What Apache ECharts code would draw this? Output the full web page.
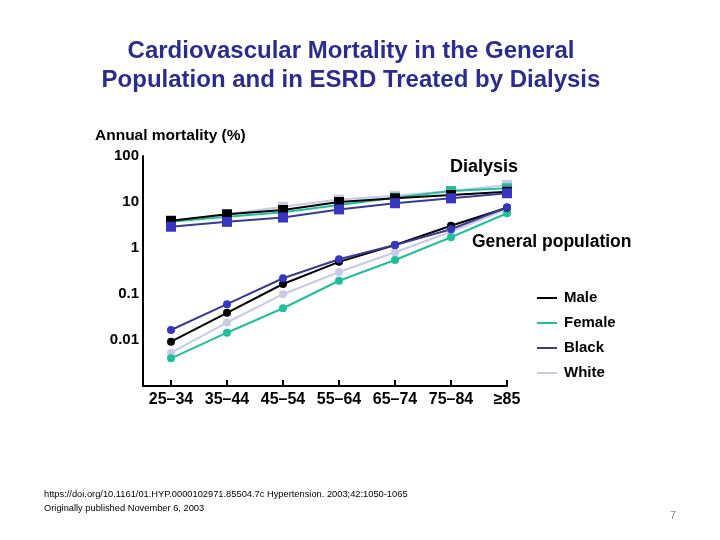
<!DOCTYPE html>
<html>
<head>
<meta charset="utf-8">
<title>Cardiovascular Mortality</title>
<script src="https://cdn.jsdelivr.net/npm/echarts@6/dist/echarts.min.js"></script>
<style>
  html, body { margin: 0; padding: 0; background: #fff; }
  #chart { width: 720px; height: 540px; }
</style>
</head>
<body>
<div id="chart"></div>
<script>
// age groups on the x axis
const ageGroups = ['25\u201334', '35\u201344', '45\u201354', '55\u201364', '65\u201374', '75\u201384', '\u226585']
const groupNames = ['Male', 'Female', 'Black', 'White']
const groupColors = ['#000000', '#20bf9c', '#3a3a94', '#c9c9e8']
const markerColors = ['#000000', '#20bf9c', '#3636c0', '#c9c9e8']

// annual mortality (%), dialysis patients
const dialysisMale = [3.9, 5.4, 6.7, 10, 12.0, 14.2, 16.7]
const dialysisFemale = [3.7, 4.8, 6.0, 8.6, 12.4, 17.3, 19.9]
const dialysisBlack = [2.9, 3.7, 4.6, 6.9, 9.4, 12.0, 15.5]
const dialysisWhite = [3.9, 5.4, 7.9, 11.3, 13.7, 17.3, 23.4]

// annual mortality (%), general population
const generalMale = [0.0092, 0.039, 0.165, 0.50, 1.16, 3.05, 7.5]
const generalFemale = [0.0040, 0.0144, 0.049, 0.194, 0.548, 1.71, 5.7]
const generalBlack = [0.0165, 0.060, 0.22, 0.57, 1.16, 2.55, 7.7]
const generalWhite = [0.0053, 0.024, 0.099, 0.30, 0.81, 2.26, 7.05]

const yTickLabels = { 100: '100', 10: '10', 1: '1', 0.1: '0.1', 0.01: '0.01' }

const dialysisData = [dialysisMale, dialysisFemale, dialysisBlack, dialysisWhite]
const generalData = [generalMale, generalFemale, generalBlack, generalWhite]

function makeSeries (values, i, symbol, size) {
  return {
    name: groupNames[i],
    type: 'line',
    data: values.map((v, k) => [k, v]),
    symbol: symbol,
    symbolSize: size,
    lineStyle: { color: groupColors[i], width: 2 },
    itemStyle: { color: markerColors[i] },
    z: 3,
    animation: false
  }
}

// draw order: white at back, then others
const order = [3, 1, 0, 2]
const series = []
order.forEach(i => series.push(makeSeries(dialysisData[i], i, 'rect', 10)))
order.forEach(i => series.push(makeSeries(generalData[i], i, 'circle', 8)))

const chart = echarts.init(document.getElementById('chart'), null, { renderer: 'canvas' })
const labelFont = 'Liberation Sans, Arial, sans-serif'

const option = {
  backgroundColor: '#ffffff',
  animation: false,
  grid: { left: 143, right: 213, top: 156, bottom: 154 },
  legend: {
    data: groupNames.map((n, i) => ({ name: n, itemStyle: { color: groupColors[i] } })),
    orient: 'vertical',
    left: 532,
    top: 284,
    icon: 'rect',
    itemWidth: 20,
    itemHeight: 2,
    itemGap: 7,
    selectedMode: false,
    textStyle: { fontFamily: labelFont, fontWeight: 'bold', fontSize: 15, color: '#000', padding: [0, 0, 0, 2], lineHeight: 18 }
  },
  xAxis: {
    type: 'value',
    min: -0.5,
    max: 6,
    splitLine: { show: false },
    axisLine: { onZero: false, lineStyle: { color: '#000', width: 2 } },
    axisTick: { inside: true, length: 6, lineStyle: { color: '#000', width: 2 }, customValues: [0, 1, 2, 3, 4, 5, 6] },
    axisLabel: {
      customValues: [0, 1, 2, 3, 4, 5, 6],
      formatter: v => ageGroups[Math.round(v)],
      fontFamily: labelFont,
      fontWeight: 'bold',
      fontSize: 16,
      color: '#000',
      margin: 6
    }
  },
  yAxis: {
    type: 'log',
    logBase: 10,
    min: 0.001,
    max: 100,
    splitLine: { show: false },
    axisLine: { show: true, onZero: false, lineStyle: { color: '#000', width: 2 } },
    axisTick: { show: false },
    axisLabel: {
      formatter: v => yTickLabels[v] || '',
      fontFamily: labelFont,
      fontWeight: 'bold',
      fontSize: 15,
      color: '#000',
      margin: 4
    }
  },
  graphic: [
    {
      type: 'text', x: 351, y: 37,
      style: {
        text: 'Cardiovascular Mortality in the General\nPopulation and in ESRD Treated by Dialysis',
        font: 'bold 24px Liberation Sans, Arial, sans-serif',
        fill: '#2c2c8c', align: 'center', verticalAlign: 'top', lineHeight: 29
      }
    },
    { type: 'text', left: 95, top: 128, style: { text: 'Annual mortality (%)', font: 'bold 15.5px Liberation Sans, Arial, sans-serif', fill: '#000' } },
    { type: 'text', left: 450, top: 158, style: { text: 'Dialysis', font: 'bold 18px Liberation Sans, Arial, sans-serif', fill: '#000' } },
    { type: 'text', left: 472, top: 233, style: { text: 'General population', font: 'bold 17.5px Liberation Sans, Arial, sans-serif', fill: '#000' } },
    { type: 'text', left: 44, top: 490, style: { text: 'https://doi.org/10.1161/01.HYP.0000102971.85504.7c Hypertension. 2003;42:1050-1065', font: '9.3px Liberation Sans, Arial, sans-serif', fill: '#000' } },
    { type: 'text', left: 44, top: 504, style: { text: 'Originally published November 6, 2003', font: '9.3px Liberation Sans, Arial, sans-serif', fill: '#000' } },
    { type: 'text', left: 670, top: 510, style: { text: '7', font: '11px Liberation Sans, Arial, sans-serif', fill: '#888' } }
  ],
  series: series
}

chart.setOption(option)
</script>
</body>
</html>
